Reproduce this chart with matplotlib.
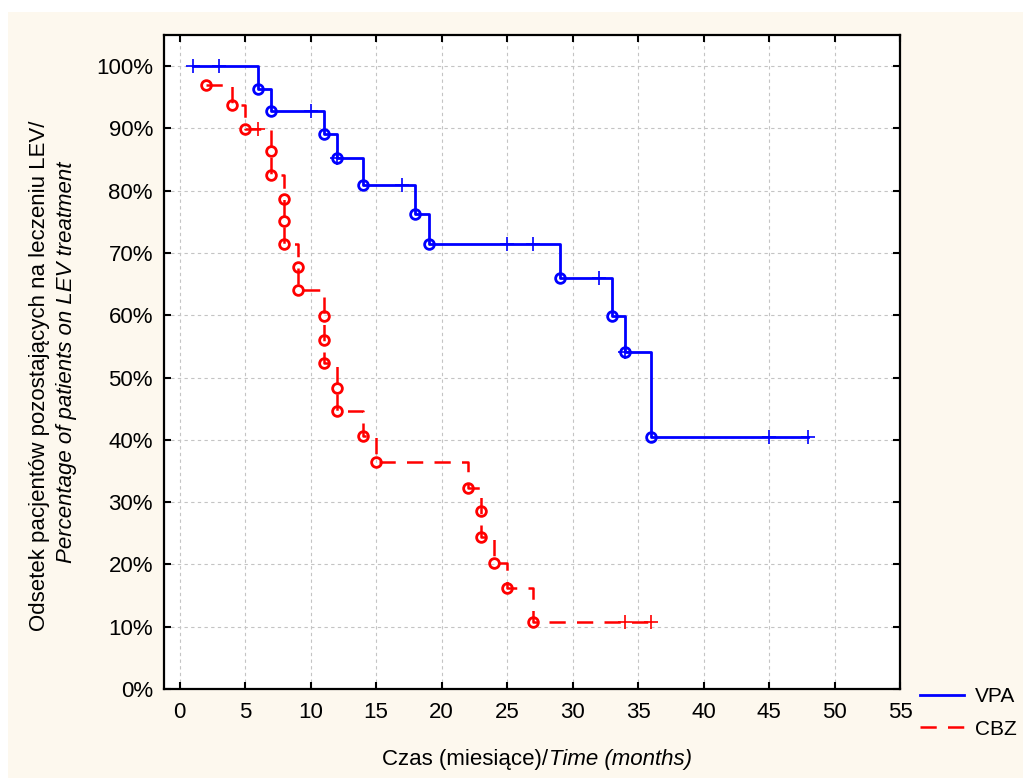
import matplotlib
matplotlib.use('Agg')
import matplotlib.pyplot as plt
from matplotlib.patches import Rectangle

plt.rcParams['font.family'] = ['Liberation Sans', 'DejaVu Sans']

# VPA (Kaplan-Meier, %)
vpa_start = (1, 100.0)
vpa_end = 48
vpa_event_t = [6, 7, 11, 12, 14, 18, 19, 29, 33, 34, 36]
vpa_event_v = [96.4, 92.8, 89.1, 85.3, 80.9, 76.3, 71.4, 66.0, 59.9, 54.1, 40.5]
vpa_cens_t = [1, 3, 10, 12, 17, 25, 27, 32, 34, 45, 48]
vpa_cens_v = [100.0, 100.0, 92.8, 85.3, 80.9, 71.4, 71.4, 66.0, 54.1, 40.5, 40.5]

# CBZ
cbz_start = (2, 96.9)
cbz_end = 36
cbz_event_t = [2, 4, 5, 7, 7, 8, 8, 8, 9, 9, 11, 11, 11, 12, 12, 14, 15, 22, 23, 23, 24, 25, 27]
cbz_event_v = [96.9, 93.7, 89.9, 86.3, 82.5, 78.7, 75.1, 71.4, 67.7, 64.0, 59.9, 56.1, 52.4,
               48.3, 44.6, 40.6, 36.4, 32.3, 28.5, 24.4, 20.3, 16.2, 10.8]
cbz_cens_t = [6, 34, 36]
cbz_cens_v = [89.9, 10.8, 10.8]


def step_path(start, events_t, events_v, end):
    xs, ys = [start[0]], [start[1]]
    cur = start[1]
    for t, v in zip(events_t, events_v):
        xs += [t, t]
        ys += [cur, v]
        cur = v
    xs.append(end)
    ys.append(cur)
    return xs, ys


FS = 16

fig = plt.figure(figsize=(10.23, 7.78), dpi=100)
fig.patches.append(Rectangle((8 / 1023, 0), 1, 766 / 778, transform=fig.transFigure,
                             facecolor='#fdf8ee', edgecolor='none', zorder=-10))
ax = fig.add_axes([164 / 1023, 1 - 689 / 778, 736 / 1023, 654 / 778])
ax.set_facecolor('white')

blue = '#0000ff'
red = '#ff0000'

x, y = step_path(vpa_start, vpa_event_t, vpa_event_v, vpa_end)
ax.plot(x, y, color=blue, lw=2.0, zorder=4, label='VPA')
ax.plot(vpa_event_t, vpa_event_v, 'o', ms=7, mfc='none', mec=blue, mew=2.0, zorder=5)
ax.plot(vpa_cens_t, vpa_cens_v, '+', ms=10, mec=blue, mew=1.2, zorder=5)

x, y = step_path(cbz_start, cbz_event_t, cbz_event_v, cbz_end)
ax.plot(x, y, color=red, lw=1.8, ls=(0, (6.5, 4.5)), zorder=4, label='CBZ')
ax.plot(cbz_event_t, cbz_event_v, 'o', ms=7, mfc='none', mec=red, mew=2.0, zorder=5)
ax.plot(cbz_cens_t, cbz_cens_v, '+', ms=10, mec=red, mew=1.2, zorder=5)

ax.set_xlim(-1.2, 55)
ax.set_ylim(0, 105)
ax.set_xticks(range(0, 56, 5))
ax.set_yticks(range(0, 101, 10))
ax.set_yticklabels([f'{v}%' for v in range(0, 101, 10)])
ax.grid(True, color='#c4c4c4', ls=(0, (3, 3)), lw=0.8, zorder=0)
ax.tick_params(direction='in', length=5, width=1.5, labelsize=FS, top=True, right=True)
ax.tick_params(axis='y', pad=8)
ax.tick_params(axis='x', pad=9)
for s in ax.spines.values():
    s.set_linewidth(1.6)

# x label: regular part + italic part
fig.text(548 / 1023, 1 - 760 / 778, 'Czas (miesiące)/', ha='right', va='center', fontsize=FS)
fig.text(549 / 1023, 1 - 760 / 778, 'Time (months)', ha='left', va='center', fontsize=FS,
         style='italic')
fig.text(40 / 1023, 1 - 376 / 778, 'Odsetek pacjentów pozostających na leczeniu LEV/',
         rotation=90, ha='center', va='center', fontsize=FS)
fig.text(67 / 1023, 1 - 362 / 778, 'Percentage of patients on LEV treatment',
         rotation=90, ha='center', va='center', fontsize=FS, style='italic')

fig.legend(loc='upper left', bbox_to_anchor=(920 / 1023, 1 - 687 / 778), frameon=False,
           fontsize=15, handlelength=2.1, handletextpad=0.55, labelspacing=0.65,
           borderpad=0, borderaxespad=0)

fig.savefig('out.png', dpi=100)
